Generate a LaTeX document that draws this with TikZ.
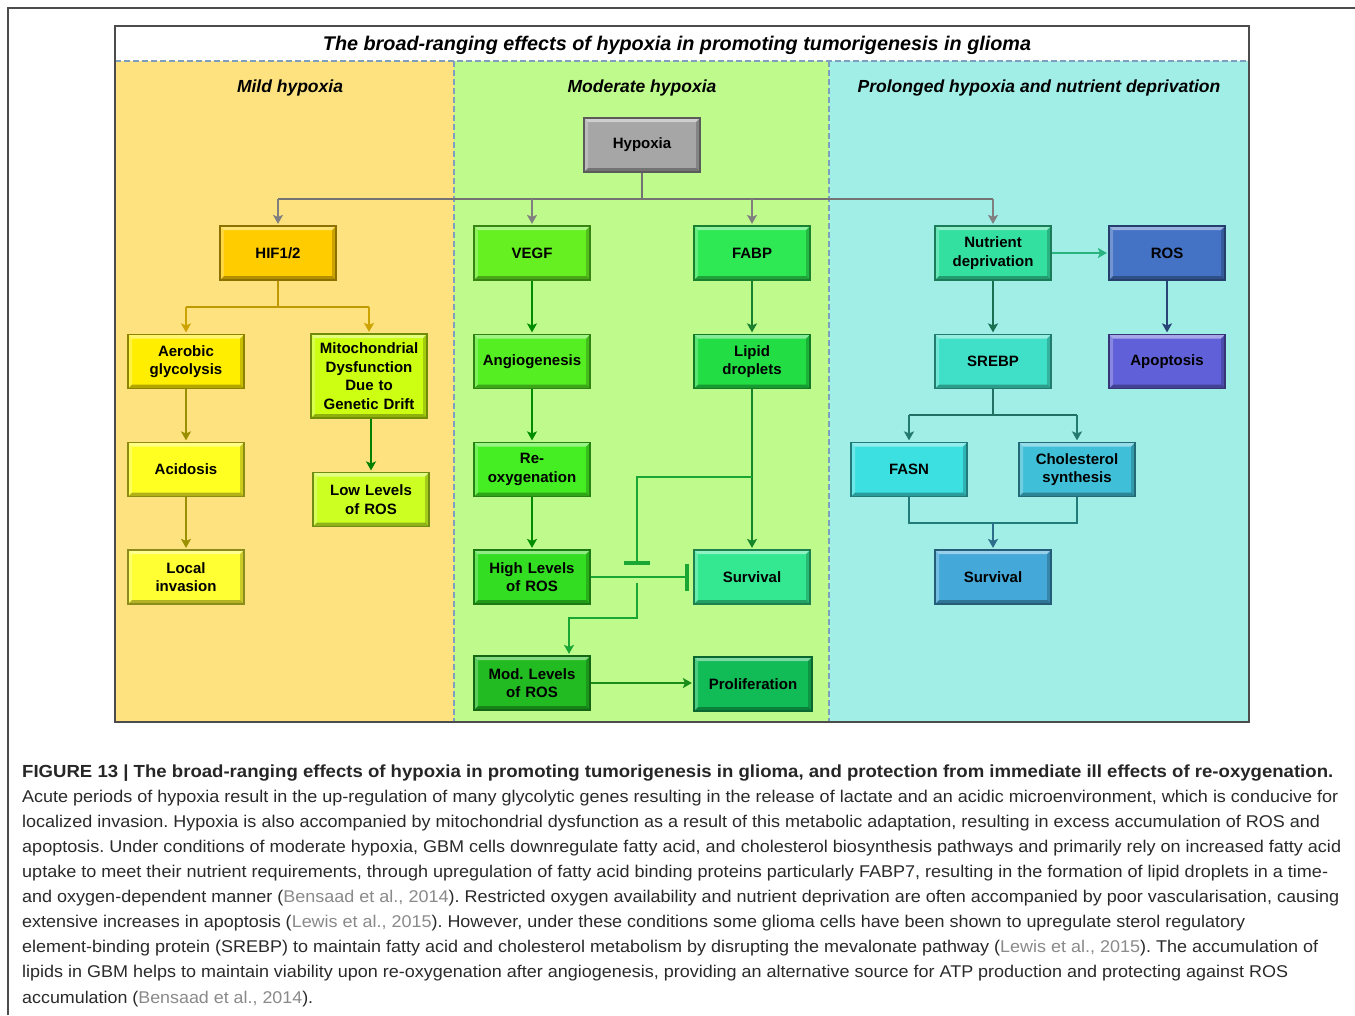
\documentclass[tikz,border=0pt]{standalone}
\usepackage{fontspec}
\setmainfont{Liberation Sans}
\usetikzlibrary{arrows.meta}
\frenchspacing
\definecolor{ypanel}{HTML}{FEE280}
\definecolor{gpanel}{HTML}{BEFB8C}
\definecolor{cpanel}{HTML}{A0EEE6}
\definecolor{dashc}{HTML}{7F9FBF}
\definecolor{citec}{HTML}{8A8A8A}
\definecolor{captc}{HTML}{2A2A2A}
\definecolor{cHyp}{HTML}{A6A6A6}
\definecolor{cHif}{HTML}{FFCC00}
\definecolor{cVegf}{HTML}{66F022}
\definecolor{cFabp}{HTML}{2EE854}
\definecolor{cNut}{HTML}{33E0A0}
\definecolor{cRos}{HTML}{4472C4}
\definecolor{cAer}{HTML}{FFEE00}
\definecolor{cMito}{HTML}{CCFF11}
\definecolor{cAng}{HTML}{55EE22}
\definecolor{cLip}{HTML}{22DD44}
\definecolor{cSre}{HTML}{40E0C8}
\definecolor{cApo}{HTML}{6060D8}
\definecolor{cAci}{HTML}{FFFF22}
\definecolor{cLow}{HTML}{CCFF22}
\definecolor{cReo}{HTML}{44EE22}
\definecolor{cFasn}{HTML}{3DE0E0}
\definecolor{cChol}{HTML}{40C0D8}
\definecolor{cLoc}{HTML}{FFFF33}
\definecolor{cHros}{HTML}{33DD22}
\definecolor{cSurvA}{HTML}{33E890}
\definecolor{cSurvB}{HTML}{44A8D8}
\definecolor{cMod}{HTML}{22BB22}
\definecolor{cProl}{HTML}{11BB55}
\tikzset{
  bx/.style={draw=#1!55!black, line width=1.2pt, fill=#1, minimum width=116pt, minimum height=54pt,
    inner sep=1pt, align=center, text width=112pt,
    font=\fontsize{15}{18.5}\selectfont\bfseries,
    path picture={
      \fill[white,opacity=.45] (path picture bounding box.north west) -- (path picture bounding box.north east)
        -- ([shift={(-4pt,-4pt)}]path picture bounding box.north east) -- ([shift={(4pt,-4pt)}]path picture bounding box.north west) -- cycle;
      \fill[white,opacity=.25] (path picture bounding box.north west) -- ([shift={(4pt,-4pt)}]path picture bounding box.north west)
        -- ([shift={(4pt,4pt)}]path picture bounding box.south west) -- (path picture bounding box.south west) -- cycle;
      \fill[black,opacity=.30] (path picture bounding box.south west) -- (path picture bounding box.south east)
        -- ([shift={(-4pt,4pt)}]path picture bounding box.south east) -- ([shift={(4pt,4pt)}]path picture bounding box.south west) -- cycle;
      \fill[black,opacity=.20] (path picture bounding box.north east) -- ([shift={(-4pt,-4pt)}]path picture bounding box.north east)
        -- ([shift={(-4pt,4pt)}]path picture bounding box.south east) -- (path picture bounding box.south east) -- cycle;
    }},
  con/.style={draw=#1, line width=2.8pt},
  arr/.style={draw=#1, line width=2.8pt, -{Stealth[length=9pt,width=10pt,inset=2pt]}, shorten >=1.5pt},
  coltitle/.style={font=\fontsize{17.5}{20}\selectfont\bfseries\itshape, inner sep=0pt},
  capline/.style={anchor=base west, inner sep=0pt, text=captc, font=\fontsize{17}{20}\selectfont},
}
\begin{document}
\begin{tikzpicture}[x=1pt,y=-1pt]
\useasboundingbox (0,0) rectangle (1355,1015);
\fill[white] (0,0) rectangle (1355,1015);
\draw[gray!60!black, line width=1.3pt] (8,1015) -- (8,8) -- (1355,8);
% panels
\fill[ypanel] (115,61) rectangle (454,722);
\fill[gpanel] (454,61) rectangle (829,722);
\fill[cpanel] (829,61) rectangle (1249,722);
\draw[dashc, line width=1.3pt, dash pattern=on 6pt off 3pt] (115,61) -- (1249,61) (454,61) -- (454,722) (829,61) -- (829,722);
\draw[black!70, line width=1.3pt] (115,26) rectangle (1249,722);
\node[coltitle, font=\fontsize{19.8}{22}\selectfont\bfseries\itshape] (title) at (677,45) {The broad-ranging effects of hypoxia in promoting tumorigenesis in glioma};
\node[coltitle] (t1) at (290,88) {Mild hypoxia};
\node[coltitle] (t2) at (642,88) {Moderate hypoxia};
\node[coltitle] (t3) at (1039,88) {Prolonged hypoxia and nutrient deprivation};
% boxes
\node[bx=cHyp] (hyp) at (642,145) {Hypoxia};
\node[bx=cHif] (hif) at (278,253) {HIF1/2};
\node[bx=cVegf] (vegf) at (532,253) {VEGF};
\node[bx=cFabp] (fabp) at (752,253) {FABP};
\node[bx=cNut] (nut) at (993,253) {Nutrient\\deprivation};
\node[bx=cRos] (ros) at (1167,253) {ROS};
\node[bx=cAer] (aer) at (186,361.5) {Aerobic\\glycolysis};
\node[bx=cMito, minimum height=84pt] (mito) at (369,376) {Mitochondrial\\Dysfunction\\Due to\\Genetic Drift};
\node[bx=cAng] (ang) at (532,361.5) {Angiogenesis};
\node[bx=cLip] (lip) at (752,361.5) {Lipid\\droplets};
\node[bx=cSre] (sre) at (993,361.5) {SREBP};
\node[bx=cApo] (apo) at (1167,361.5) {Apoptosis};
\node[bx=cAci] (aci) at (186,469.5) {Acidosis};
\node[bx=cLow] (low) at (371,499.5) {Low Levels\\of ROS};
\node[bx=cReo] (reo) at (532,469.5) {Re-\\oxygenation};
\node[bx=cFasn] (fasn) at (909,469.5) {FASN};
\node[bx=cChol] (chol) at (1077,469.5) {Cholesterol\\synthesis};
\node[bx=cLoc] (loc) at (186,577) {Local\\invasion};
\node[bx=cHros] (hros) at (532,577) {High Levels\\of ROS};
\node[bx=cSurvA] (surva) at (752,577) {Survival};
\node[bx=cSurvB] (survb) at (993,577) {Survival};
\node[bx=cMod] (mod) at (532,683) {Mod. Levels\\of ROS};
\node[bx=cProl, minimum width=118pt] (prol) at (753,684) {Proliferation};
% hypoxia tree
\coordinate (hj) at (642,199);
\draw[con=black!55] (hyp.south) -- (hj);
\draw[con=black!55] (hif.north |- hj) -- (nut.north |- hj);
\draw[arr=black!50] (hif.north |- hj) -- (hif.north);
\draw[arr=black!50] (vegf.north |- hj) -- (vegf.north);
\draw[arr=black!50] (fabp.north |- hj) -- (fabp.north);
\draw[arr=black!50] (nut.north |- hj) -- (nut.north);
% HIF tree
\coordinate (hifj) at (278,307);
\draw[con=cHif!75!black] (hif.south) -- (hifj);
\draw[con=cHif!75!black] (aer.north |- hifj) -- (mito.north |- hifj);
\draw[arr=cHif!80!black] (aer.north |- hifj) -- (aer.north);
\draw[arr=cHif!80!black] (mito.north |- hifj) -- (mito.north);
\draw[arr=cAer!60!black] (aer) -- (aci);
\draw[arr=cAer!60!black] (aci) -- (loc);
\draw[arr=green!50!black] (mito.south -| low.north) -- (low.north);
% moderate
\draw[arr=green!55!black] (vegf) -- (ang);
\draw[arr=green!55!black] (ang) -- (reo);
\draw[arr=green!55!black] (reo) -- (hros);
\draw[arr=cFabp!55!black] (fabp) -- (lip);
\draw[arr=cLip!60!black] (lip) -- (surva);
\coordinate (lj) at (752,477);
\coordinate (tb) at (637,565);
\draw[con=cLip!75!black, -{Bar[width=26pt,line width=4pt]}] (lj) -| (tb);
\draw[con=cLip!75!black, -{Bar[width=27pt,line width=4pt]}, shorten >=4pt] (hros.east) -- (surva.west);
\coordinate (bs) at (637,583);
\coordinate (bm) at (637,618);
\draw[arr=cLip!75!black] (bs) -- (bm) -| ([xshift=37pt]mod.north);
\draw[arr=cMod!75!black] (mod.east) -- (prol.west |- mod.east);
% prolonged
\draw[arr=cNut!80!black] (nut.east) -- (ros.west);
\draw[arr=cNut!50!black] (nut) -- (sre);
\draw[arr=cRos!60!black] (ros) -- (apo);
\coordinate (sj) at (993,415);
\draw[con=cSre!50!black] (sre.south) -- (sj);
\draw[con=cSre!50!black] (fasn.north |- sj) -- (chol.north |- sj);
\draw[arr=cSre!55!black] (fasn.north |- sj) -- (fasn.north);
\draw[arr=cSre!55!black] (chol.north |- sj) -- (chol.north);
\coordinate (mj) at (993,523);
\draw[con=cFasn!55!black] (fasn.south) -- (fasn.south |- mj) -- (chol.south |- mj) -- (chol.south);
\draw[arr=cSurvB!65!black] (mj) -- (survb.north);
% caption
\node[capline, font=\fontsize{17.5}{20}\selectfont\bfseries, text=black!85] (c0) at (22,777) {\resizebox{1311pt}{\height}{FIGURE 13 | The broad-ranging effects of hypoxia in promoting tumorigenesis in glioma, and protection from immediate ill effects of re-oxygenation.}};
\node[capline] (c1) at (22,802) {\resizebox{1316pt}{\height}{Acute periods of hypoxia result in the up-regulation of many glycolytic genes resulting in the release of lactate and an acidic microenvironment, which is conducive for}};
\node[capline] (c2) at (22,827) {\resizebox{1298pt}{\height}{localized invasion. Hypoxia is also accompanied by mitochondrial dysfunction as a result of this metabolic adaptation, resulting in excess accumulation of ROS and}};
\node[capline] (c3) at (22,852) {\resizebox{1319pt}{\height}{apoptosis. Under conditions of moderate hypoxia, GBM cells downregulate fatty acid, and cholesterol biosynthesis pathways and primarily rely on increased fatty acid}};
\node[capline] (c4) at (22,877) {\resizebox{1306pt}{\height}{uptake to meet their nutrient requirements, through upregulation of fatty acid binding proteins particularly FABP7, resulting in the formation of lipid droplets in a time-}};
\node[capline] (c5) at (22,902) {\resizebox{1317pt}{\height}{and oxygen-dependent manner ({\color{citec}Bensaad et al., 2014}). Restricted oxygen availability and nutrient deprivation are often accompanied by poor vascularisation, causing}};
\node[capline] (c6) at (22,927) {\resizebox{1223pt}{\height}{extensive increases in apoptosis ({\color{citec}Lewis et al., 2015}). However, under these conditions some glioma cells have been shown to upregulate sterol regulatory}};
\node[capline] (c7) at (22,952) {\resizebox{1296pt}{\height}{element-binding protein (SREBP) to maintain fatty acid and cholesterol metabolism by disrupting the mevalonate pathway ({\color{citec}Lewis et al., 2015}). The accumulation of}};
\node[capline] (c8) at (22,977) {\resizebox{1266pt}{\height}{lipids in GBM helps to maintain viability upon re-oxygenation after angiogenesis, providing an alternative source for ATP production and protecting against ROS}};
\node[capline] (c9) at (22,1003) {\resizebox{291pt}{\height}{accumulation ({\color{citec}Bensaad et al., 2014}).}};
\end{tikzpicture}
\end{document}
